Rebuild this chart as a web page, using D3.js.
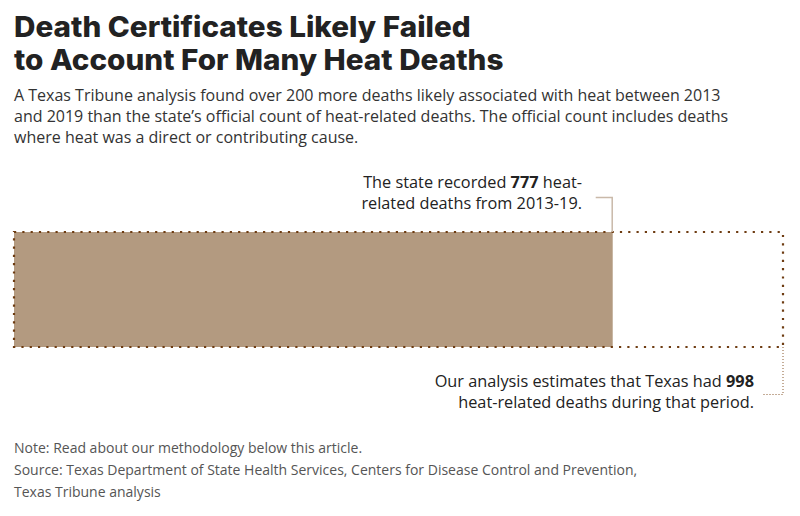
<!DOCTYPE html>
<html>
<head>
<meta charset="utf-8">
<script src="https://cdn.jsdelivr.net/npm/d3@7"></script>
<style>
  body { margin: 0; background: #fff; }
  svg { display: block; }
</style>
</head>
<body>
<svg id="chart"></svg>
<script>
// data
var labels = ["State official count", "Tribune analysis estimate"];
var deaths = [777, 998];
var titleLines = ["Death Certificates Likely Failed", "to Account For Many Heat Deaths"];
var subLines = [
  "A Texas Tribune analysis found over 200 more deaths likely associated with heat between 2013",
  "and 2019 than the state\u2019s official count of heat-related deaths. The official count includes deaths",
  "where heat was a direct or contributing cause."
];
var footLines = [
  "Note: Read about our methodology below this article.",
  "Source: Texas Department of State Health Services, Centers for Disease Control and Prevention,",
  "Texas Tribune analysis"
];

var width = 800, height = 516;
var margin = {left: 14, right: 17};

var svg = d3.select("#chart")
  .attr("width", width)
  .attr("height", height);

// title (a bit wider than Inter, so stretch it)
svg.append("g")
  .attr("transform", "translate(14,0) scale(1.06,1)")
  .selectAll("text")
  .data(titleLines)
  .join("text")
  .attr("x", 0)
  .attr("y", (d, i) => 37 + i * 33)
  .style("font-family", "Inter, 'Liberation Sans', sans-serif")
  .style("font-weight", 800)
  .style("font-size", "28px")
  .style("fill", "#222")
  .text(d => d);

svg.append("g").selectAll("text")
  .data(subLines)
  .join("text")
  .attr("x", 14)
  .attr("y", (d, i) => 101 + i * 21)
  .style("font-family", "'Open Sans', sans-serif")
  .style("font-size", "16px")
  .style("fill", "#333")
  .text(d => d);

// scales
var x = d3.scaleLinear()
  .domain([0, d3.max(deaths)])
  .range([margin.left, width - margin.right]);

var barTop = 232, barH = 115;

// official bar
svg.append("rect")
  .attr("x", x(0))
  .attr("y", barTop)
  .attr("width", x(deaths[0]) - x(0))
  .attr("height", barH)
  .attr("fill", "#b39a80");

// dotted outline for the estimate
svg.append("rect")
  .attr("x", x(0))
  .attr("y", barTop)
  .attr("width", x(deaths[1]) - x(0))
  .attr("height", barH)
  .attr("fill", "none")
  .attr("stroke", "#6e3c12")
  .attr("stroke-width", 2.2)
  .attr("stroke-dasharray", "2.2 6.1");

// top annotation leader
svg.append("path")
  .attr("d", `M${x(deaths[0]) - 17},197.5H${x(deaths[0]) - 0.5}V${barTop}`)
  .attr("fill", "none")
  .attr("stroke", "#c9b9a9")
  .attr("stroke-width", 1.5);

// bottom annotation leader
svg.append("path")
  .attr("d", `M${x(deaths[1])},${barTop + barH}V394.5H${x(deaths[1]) - 20}`)
  .attr("fill", "none")
  .attr("stroke", "#8a5a30")
  .attr("stroke-width", 1)
  .attr("stroke-dasharray", "1 2");

function annot(xr, y0, parts) {
  parts.forEach(function(line, i) {
    var t = svg.append("text")
      .attr("x", xr)
      .attr("y", y0 + i * 21)
      .attr("text-anchor", "end")
      .style("font-family", "'Open Sans', sans-serif")
      .style("font-size", "16.3px")
      .style("fill", "#222");
    line.forEach(function(p) {
      t.append("tspan")
        .style("font-weight", p.b ? 700 : 400)
        .text(p.t);
    });
  });
}

annot(582, 188, [
  [{t: "The state recorded "}, {t: deaths[0], b: true}, {t: " heat-"}],
  [{t: "related deaths from 2013-19."}]
]);

annot(754, 387, [
  [{t: "Our analysis estimates that Texas had "}, {t: deaths[1], b: true}],
  [{t: "heat-related deaths during that period."}]
]);

// footer
svg.append("g").selectAll("text")
  .data(footLines)
  .join("text")
  .attr("x", 14)
  .attr("y", (d, i) => 453 + i * 22)
  .style("font-family", "'Open Sans', sans-serif")
  .style("font-size", "14px")
  .style("fill", "#555")
  .text(d => d);
</script>
</body>
</html>
